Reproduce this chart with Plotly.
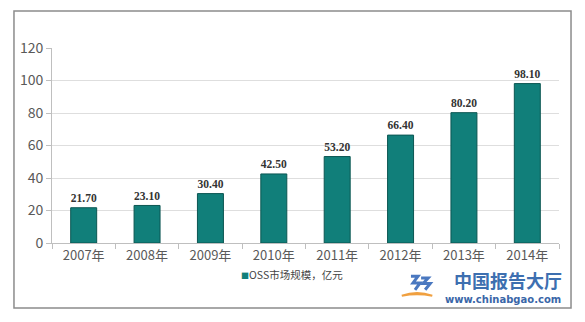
import plotly.graph_objects as go

years = ["2007年", "2008年", "2009年", "2010年", "2011年", "2012年", "2013年", "2014年"]
values = [21.70, 23.10, 30.40, 42.50, 53.20, 66.40, 80.20, 98.10]
labels = ["21.70", "23.10", "30.40", "42.50", "53.20", "66.40", "80.20", "98.10"]
y_ticks = [0, 20, 40, 60, 80, 100, 120]
series_name = "OSS市场规模，亿元"
bar_color = "#117f7a"

fig = go.Figure()
fig.add_trace(go.Bar(
    x=years, y=values, name=series_name, showlegend=False,
    marker=dict(color=bar_color, line=dict(color="#0b5652", width=1)),
    text=labels, textposition="outside", cliponaxis=False,
    textfont=dict(family="Liberation Serif", size=12, color="#333333"),
    texttemplate="<b>%{text}</b>",
))

fig.update_layout(
    width=585, height=322,
    margin=dict(l=52, r=26, t=48, b=79),
    paper_bgcolor="white", plot_bgcolor="white",
    bargap=0.59,
    showlegend=False,
    font=dict(family="Noto Sans CJK SC", color="#595959"),
)
fig.update_xaxes(
    showline=True, linecolor="#bfbfbf", linewidth=1,
    ticks="outside", tickson="boundaries", tickcolor="#bfbfbf", ticklen=5,
    tickfont=dict(family="Noto Sans CJK SC", size=13, color="#595959"),
)
fig.update_yaxes(
    range=[0, 120], tickvals=y_ticks,
    showline=True, linecolor="#bfbfbf", linewidth=1,
    ticks="outside", tickcolor="#bfbfbf", ticklen=5,
    showgrid=True, gridcolor="#dedede", gridwidth=1,
    zeroline=False,
    tickfont=dict(family="Noto Sans CJK SC", size=14, color="#595959"),
)

# legend (drawn as text with a small square)
fig.add_annotation(xref="paper", yref="paper", x=0.473, y=-0.164, xanchor="center", yanchor="middle",
                   text=f"<span style='color:{bar_color}; font-size:8px'>■</span>{series_name}",
                   showarrow=False,
                   font=dict(family="Noto Sans CJK SC", size=10.5, color="#444444"))

# outer frame
fig.add_shape(type="rect", xref="paper", yref="paper",
              x0=-0.075, x1=1.0237, y0=-0.333, y1=1.19,
              line=dict(color="#8c8c8c", width=1.5), fillcolor="rgba(0,0,0,0)", layer="below")

# watermark logo (simple swoosh shapes)
fig.add_shape(type="path", xref="paper", yref="paper",
              path="M 0.69,-0.27 Q 0.72,-0.243 0.75,-0.27 Q 0.72,-0.256 0.69,-0.27 Z",
              line=dict(color="#f0a040", width=2), fillcolor="#f0a040")
fig.add_shape(type="path", xref="paper", yref="paper",
              path="M 0.708,-0.17 L 0.722,-0.17 L 0.712,-0.205 L 0.726,-0.205 L 0.716,-0.24",
              line=dict(color="#4a78c0", width=3))
fig.add_shape(type="path", xref="paper", yref="paper",
              path="M 0.728,-0.18 L 0.742,-0.18 L 0.732,-0.208 L 0.746,-0.208 L 0.736,-0.24",
              line=dict(color="#4a78c0", width=3))

# watermark text
fig.add_annotation(xref="paper", yref="paper", x=1.01, y=-0.1923, xanchor="right", yanchor="middle",
                   text="<b>中国报告大厅</b>", showarrow=False,
                   font=dict(family="Noto Sans CJK SC", size=18, color="#3d6fb0"))
fig.add_annotation(xref="paper", yref="paper", x=1.008, y=-0.29, xanchor="right", yanchor="middle",
                   text="<b>www.chinabgao.com</b>", showarrow=False,
                   font=dict(family="DejaVu Sans", size=10, color="#3a66a8"))

fig.write_html("out.html")
